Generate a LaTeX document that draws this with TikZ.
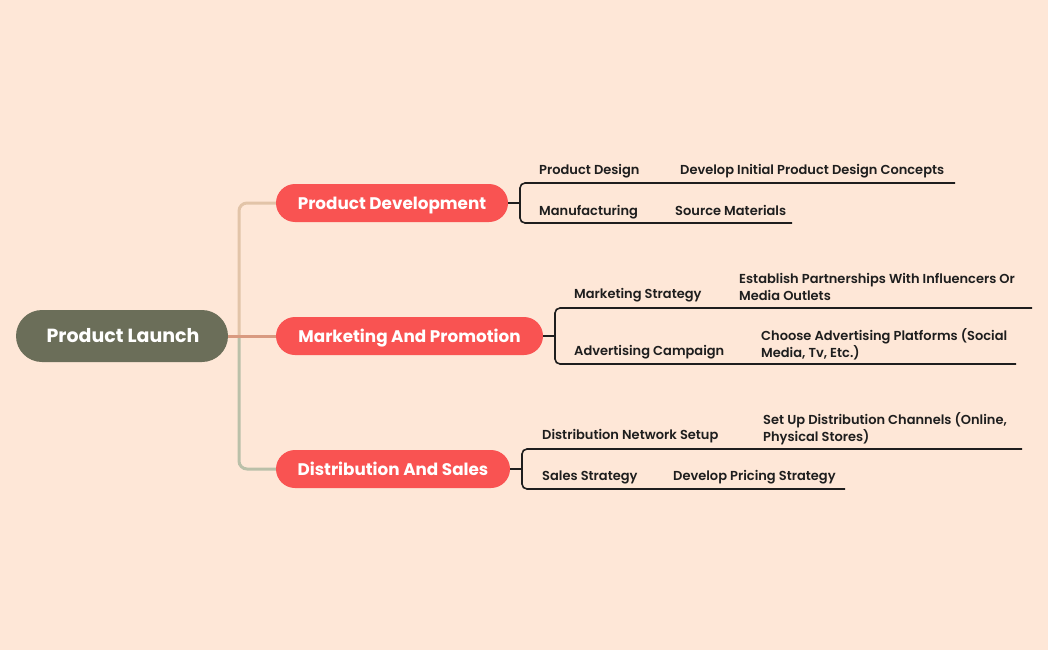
\documentclass[tikz,border=0pt]{standalone}
\usepackage{fontspec}
\setmainfont{Poppins}
\newfontfamily\leaffont{Poppins SemiBold}
\definecolor{bg}{HTML}{FEE7D7}
\definecolor{rootc}{HTML}{6B6E59}
\definecolor{branchc}{HTML}{F95352}
\definecolor{tanc}{HTML}{E2C4A8}
\definecolor{salc}{HTML}{D99A80}
\definecolor{sagec}{HTML}{BAC0A9}
\definecolor{inkc}{HTML}{1E1E1E}
\tikzset{
  rootbox/.style={fill=rootc, rounded corners=26pt, minimum height=52pt, inner sep=0pt},
  roottext/.style={anchor=base, text=white, font=\fontsize{19}{22}\selectfont\bfseries, inner sep=0pt},
  branchbox/.style={fill=branchc, rounded corners=19pt, minimum height=38pt, inner sep=0pt},
  branchtext/.style={anchor=base, text=white, font=\fontsize{16.8}{19}\selectfont\bfseries, inner sep=0pt},
  leaf/.style={anchor=base west, inner sep=0pt, text=inkc, font=\leaffont\fontsize{13}{17}\selectfont},
  leaftwo/.style={anchor=west, inner sep=0pt, text=inkc, font=\leaffont\fontsize{13}{17}\selectfont, align=left},
  trunk/.style={line width=3pt, rounded corners=8pt},
  twig/.style={line width=1.6pt, draw=inkc, rounded corners=5pt},
}
\begin{document}
\begin{tikzpicture}[x=1pt,y=-1pt]
\fill[bg] (0,0) rectangle (1048,650);
\useasboundingbox (0,0) rectangle (1048,650);
% root
\node[rootbox, minimum width=212pt] (root) at (122,336) {};
\node[roottext] (roott) at (123,342.7) {Product Launch};
% branches
\node[branchbox, minimum width=232pt] (b1) at (392,203) {};
\node[branchtext] (b1t) at (392,209) {Product Development};
\node[branchbox, minimum width=267pt] (b2) at (409.5,336) {};
\node[branchtext] (b2t) at (409.5,342) {Marketing And Promotion};
\node[branchbox, minimum width=234pt] (b3) at (393,469) {};
\node[branchtext] (b3t) at (393,475) {Distribution And Sales};
% trunk connectors
\coordinate (j) at (239,336);
\draw[trunk, draw=tanc] (j) -- (239,203) -- (b1.west);
\draw[trunk, draw=sagec] (j) -- (239,469) -- (b3.west);
\draw[line width=3pt, draw=salc] (root.east) -- (b2.west);
% branch 1 leaves
\node[leaf] (l11) at (539,174) {Product Design};
\node[leaf] (l12) at (680,174) {Develop Initial Product Design Concepts};
\node[leaf] (l21) at (539,215) {Manufacturing};
\node[leaf] (l22) at (675,215) {Source Materials};
\coordinate (e11) at (955,183);
\coordinate (e12) at (792,223);
\draw[line width=1.6pt, draw=inkc] (b1.east) -- (520,203);
\draw[twig] (e11) -- (520,183) -- (520,223) -- (e12);
% branch 2 leaves
\node[leaf] (m11) at (574,298.5) {Marketing Strategy};
\node[leaftwo] (m12) at (739,287) {Establish Partnerships With Influencers Or\\Media Outlets};
\node[leaf] (m21) at (574,355) {Advertising Campaign};
\node[leaftwo] (m22) at (761,344) {Choose Advertising Platforms (Social\\Media, Tv, Etc.)};
\coordinate (e21) at (1032,308);
\coordinate (e22) at (1016,364);
\draw[line width=1.6pt, draw=inkc] (b2.east) -- (555,336);
\draw[twig] (e21) -- (555,308) -- (555,364) -- (e22);
% branch 3 leaves
\node[leaf] (n11) at (542,439.5) {Distribution Network Setup};
\node[leaftwo] (n12) at (763,429) {Set Up Distribution Channels (Online,\\Physical Stores)};
\node[leaf] (n21) at (542,480) {Sales Strategy};
\node[leaf] (n22) at (673,480) {Develop Pricing Strategy};
\coordinate (e31) at (1022,449);
\coordinate (e32) at (845,489);
\draw[line width=1.6pt, draw=inkc] (b3.east) -- (522,469);
\draw[twig] (e31) -- (522,449) -- (522,489) -- (e32);
\end{tikzpicture}
\end{document}
